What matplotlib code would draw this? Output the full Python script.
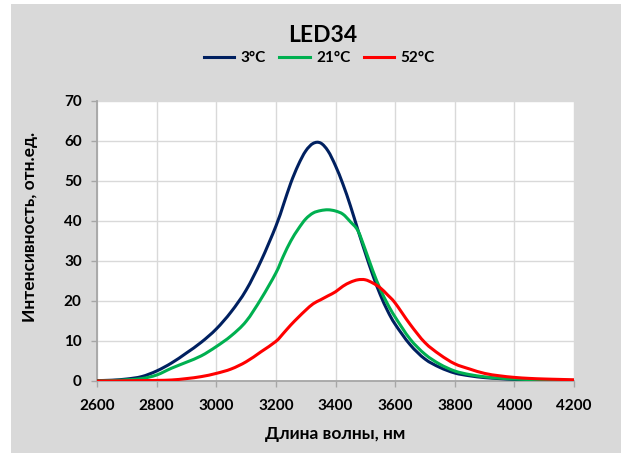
import numpy as np
import matplotlib.pyplot as plt
from matplotlib.patches import Rectangle, PathPatch
from matplotlib.path import Path
from matplotlib.lines import Line2D

plt.rcParams['font.family'] = ['Lato', 'DejaVu Sans']

# wavelength, nm
wl = [2600, 2650, 2700, 2750, 2800, 2850, 2900, 2950, 3000, 3050, 3100, 3150,
      3200, 3225, 3250, 3275, 3300, 3325, 3350, 3375, 3400, 3425, 3450, 3475,
      3500, 3525, 3550, 3575, 3600,
      3650, 3700, 3750, 3800, 3850, 3900, 3950, 4000, 4050, 4100, 4150, 4200]

t3 = [0.1, 0.2, 0.5, 1.1, 2.5, 4.5, 7.0, 9.7, 13.0, 17.3, 22.7, 30.0,
      38.7, 44.0, 49.5, 54.0, 57.5, 59.4, 59.5, 57.5, 53.8, 49.2, 43.8, 37.8,
      32.0, 26.5, 21.6, 17.5, 14.2,
      9.1, 5.5, 3.4, 2.0, 1.3, 0.85, 0.6, 0.4, 0.3, 0.2, 0.15, 0.1]

t21 = [0.05, 0.1, 0.3, 0.6, 1.5, 3.2, 4.7, 6.3, 8.6, 11.3, 14.9, 20.5,
       27.0, 31.2, 35.0, 38.0, 40.5, 42.0, 42.6, 42.8, 42.5, 41.7, 39.8, 37.6,
       32.8, 27.6, 23.0, 19.2, 16.0,
       10.5, 6.7, 4.2, 2.5, 1.6, 1.05, 0.7, 0.5, 0.35, 0.25, 0.2, 0.15]

t52 = [0.0, 0.0, 0.05, 0.1, 0.15, 0.25, 0.6, 1.1, 1.9, 3.0, 4.8, 7.3,
       9.9, 11.9, 14.0, 15.9, 17.7, 19.3, 20.3, 21.3, 22.3, 23.7, 24.7, 25.3,
       25.3, 24.5, 23.3, 21.5, 19.5,
       14.2, 9.6, 6.6, 4.3, 3.0, 1.9, 1.3, 0.9, 0.65, 0.5, 0.4, 0.3]

series = [(t3, '#002060', '3°C'), (t21, '#00b050', '21°C'), (t52, '#ff0000', '52°C')]

xticks = list(range(2600, 4201, 200))
yticks = list(range(0, 71, 10))


def smooth_path(x, y):
    # smoothed line through the points (cubic Bezier, Catmull-Rom style)
    p = np.column_stack([x, y]).astype(float)
    verts = [p[0]]
    codes = [Path.MOVETO]
    n = len(p)
    for i in range(n - 1):
        p0 = p[i - 1] if i > 0 else p[i]
        p3 = p[i + 2] if i + 2 < n else p[i + 1]
        c1 = p[i] + (p[i + 1] - p0) / 6
        c2 = p[i + 1] - (p3 - p[i]) / 6
        verts += [c1, c2, p[i + 1]]
        codes += [Path.CURVE4] * 3
    return Path(verts, codes)


fig = plt.figure(figsize=(6.21, 4.54), dpi=100, facecolor='white')
# grey chart area
fig.patches.append(Rectangle((11 / 621, 1 / 454), 610 / 621, 449 / 454,
                             transform=fig.transFigure, facecolor='#d9d9d9',
                             edgecolor='none', zorder=-1))

ax = fig.add_axes([97 / 621, 73 / 454, 477 / 621, 280 / 454])
ax.set_zorder(1)
ax.set_facecolor('white')

handles = []
for vals, col, lab in series:
    ax.add_patch(PathPatch(smooth_path(wl, vals), facecolor='none',
                           edgecolor=col, lw=2.2, capstyle='round',
                           joinstyle='round', zorder=3))
    handles.append(Line2D([], [], color=col, lw=2.2, label=lab))

ax.set_xlim(2600, 4200)
ax.set_ylim(0, 70)
ax.set_xticks(xticks)
ax.set_yticks(yticks)
ax.grid(True, color='#d9d9d9', lw=1)
ax.set_axisbelow(True)

for s in ['top', 'right']:
    ax.spines[s].set_visible(False)
for s in ['left', 'bottom']:
    ax.spines[s].set_color('#a6a6a6')
    ax.spines[s].set_linewidth(1.3)
ax.tick_params(axis='both', direction='out', length=4, color='#a6a6a6',
               labelsize=11, width=1)
ax.tick_params(axis='x', pad=9)
ax.tick_params(axis='y', pad=7)
for lab in ax.get_xticklabels() + ax.get_yticklabels():
    lab.set_fontweight('bold')

ax.set_xlabel('Длина волны, нм', fontsize=12.5, fontweight='bold')
ax.set_ylabel('Интенсивность, отн.ед.', fontsize=12.5, fontweight='bold')
ax.xaxis.set_label_coords(0.5, -0.16)
ax.yaxis.set_label_coords(-0.124, 0.55)

fig.text(0.52, 0.921, 'LED34', ha='center', va='center', fontsize=16.5,
         fontweight='bold')
fig.legend(handles=handles, loc='center', bbox_to_anchor=(0.514, 0.872),
           ncol=3, frameon=False, handlelength=2.0, columnspacing=0.9,
           handletextpad=0.4, prop={'weight': 'bold', 'size': 11})

fig.savefig('out.png', dpi=100, facecolor=fig.get_facecolor())
